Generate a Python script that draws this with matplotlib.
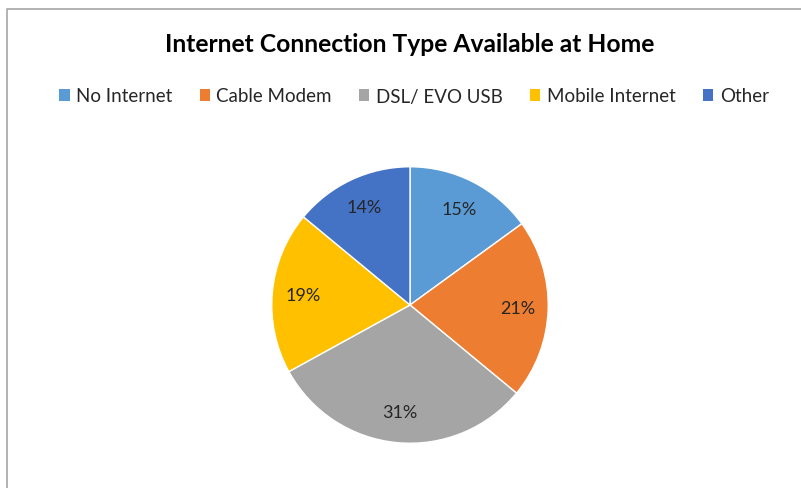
import matplotlib.pyplot as plt
from matplotlib.lines import Line2D
from matplotlib.patches import Patch

labels = ["No Internet", "Cable Modem", "DSL/ EVO USB", "Mobile Internet", "Other"]
shares = [15, 21, 31, 19, 14]
colors = ["#5B9BD5", "#ED7D31", "#A5A5A5", "#FFC000", "#4472C4"]

plt.rcParams['font.family'] = ['Lato', 'DejaVu Sans']

W, H = 801, 489
fig = plt.figure(figsize=(W / 100, H / 100), dpi=100)

# chart border (top and left visible, rest cut off)
fig.add_artist(Line2D([7 / W, 7 / W, 1.0], [0.0, 1 - 10 / H, 1 - 10 / H],
                      transform=fig.transFigure, color="#A6A6A6", lw=1.2))

cx, cy, r = 410, 306, 141
ax = fig.add_axes([(cx - r) / W, 1 - (cy + r) / H, 2 * r / W, 2 * r / H])
ax.pie(shares, colors=colors, startangle=90, counterclock=False, radius=1,
       autopct="%d%%", pctdistance=0.78,
       wedgeprops=dict(edgecolor="white", linewidth=1),
       textprops=dict(fontsize=13, color="#262626"))
ax.set_xlim(-1.02, 1.02)
ax.set_ylim(-1.02, 1.02)
ax.set_aspect("equal")
ax.axis("off")

fig.text(410 / W, 1 - 45 / H, "Internet Connection Type Available at Home",
         ha="center", va="center", fontsize=17.7, fontweight="bold", color="#000000")

handles = [Patch(facecolor=c, edgecolor="none") for c in colors]
fig.legend(handles, labels, loc="center", bbox_to_anchor=(414 / W, 1 - 97 / H),
           ncol=5, frameon=False, fontsize=13.5, handlelength=0.55, handleheight=0.55,
           handletextpad=0.35, columnspacing=1.45, labelcolor="#262626")

fig.savefig("out.png", dpi=100)
